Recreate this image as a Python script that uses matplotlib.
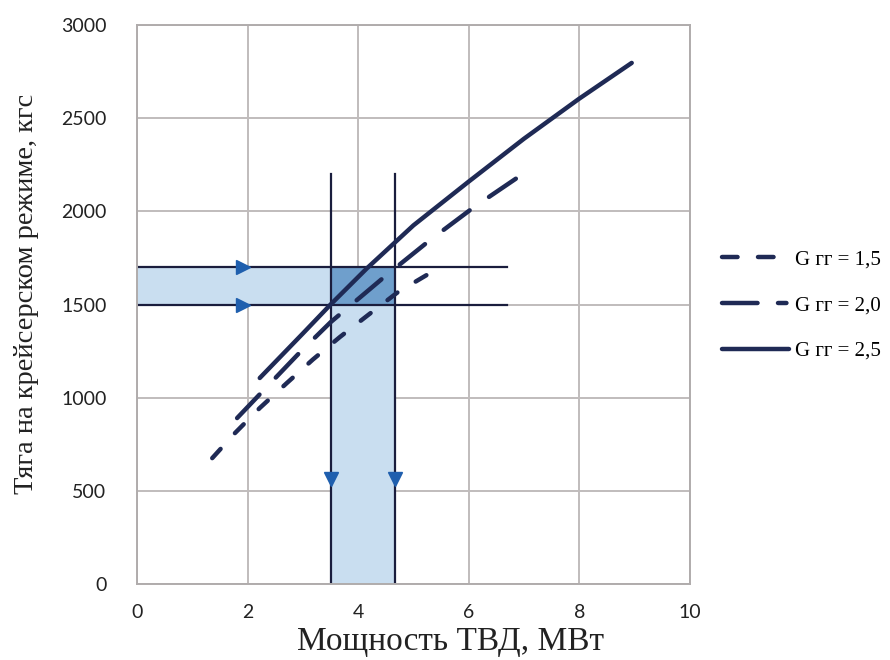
import matplotlib.pyplot as plt
from matplotlib.lines import Line2D

# curves: power (MW) vs thrust (kgf)
x_25 = [2.22, 3.0, 3.5, 4.16, 5.0, 6.0, 7.0, 8.0, 8.95]
y_25 = [1106, 1345, 1500, 1695, 1925, 2160, 2390, 2605, 2797]

x_20 = [1.81, 2.26, 2.95, 3.5, 4.0, 4.5, 5.3, 6.1, 6.95]
y_20 = [891, 1031, 1245, 1405, 1530, 1655, 1846, 2024, 2195]

x_15 = [1.36, 1.77, 2.22, 2.71, 3.18, 3.67, 4.18, 4.72, 5.39]
y_15 = [676, 810, 945, 1079, 1205, 1326, 1444, 1567, 1685]

labels = ["G гг = 1,5", "G гг = 2,0", "G гг = 2,5"]

# construction lines
thrust_levels = [1500, 1700]
power_levels = [3.5, 4.67]
h_line_end = 6.7
v_line_top = 2200

navy = "#1f2a55"
arrow_blue = "#1f5fae"
lw = 3.2

fig = plt.figure(figsize=(8.9, 6.6), dpi=100)
ax = fig.add_axes([0.154, 0.115, 0.621, 0.847])

# shaded bands
ax.fill_between([0, power_levels[0]], thrust_levels[0], thrust_levels[1],
                color="#c9def0", lw=0, zorder=1)
ax.fill_between(power_levels, 0, thrust_levels[0],
                color="#c9def0", lw=0, zorder=1)
ax.fill_between(power_levels, thrust_levels[0], thrust_levels[1],
                color="#6f9fcc", lw=0, zorder=1)

# curves
ax.plot(x_15, y_15, color=navy, lw=lw, dashes=(2.8, 4.8),
        dash_capstyle="round", zorder=3)
ax.plot(x_20, y_20, color=navy, lw=lw, dashes=(7.3, 5.3),
        dash_capstyle="round", zorder=3)
ax.plot(x_25, y_25, color=navy, lw=lw, solid_capstyle="round", zorder=3)

# construction lines and arrows
for t in thrust_levels:
    ax.plot([0, h_line_end], [t, t], color="#1a1d3d", lw=1.6, zorder=2)
    ax.plot([1.92], [t], marker=">", ms=10, color=arrow_blue, zorder=4)
for p in power_levels:
    ax.plot([p, p], [0, v_line_top], color="#1a1d3d", lw=1.6, zorder=2)
    ax.plot([p], [565], marker="v", ms=10, color=arrow_blue, zorder=4)

ax.set_xlim(0, 10)
ax.set_ylim(0, 3000)
ax.set_xticks([0, 2, 4, 6, 8, 10])
ax.set_yticks([0, 500, 1000, 1500, 2000, 2500, 3000])
ax.grid(True, color="#c0bcbc", lw=1.4, zorder=0)
ax.set_axisbelow(True)
for s in ax.spines.values():
    s.set_color("#b0acac")
    s.set_linewidth(1.4)
ax.tick_params(length=0, labelsize=14, colors="#222222")
ax.tick_params(axis="y", pad=22)
ax.tick_params(axis="x", pad=14)
for lab in ax.get_xticklabels() + ax.get_yticklabels():
    lab.set_family("Lato")

ax.set_xlabel("Мощность ТВД, МВт", family="Liberation Serif", fontsize=24,
              color="#222222")
ax.xaxis.set_label_coords(0.568, -0.076)
ax.set_ylabel("Тяга на крейсерском режиме, кгс", family="Liberation Serif",
              fontsize=20.5, color="#222222")
ax.yaxis.set_label_coords(-0.178, 0.52)

handles = [
    Line2D([], [], color=navy, lw=lw, dashes=(3.5, 4.6), dash_capstyle="round"),
    Line2D([], [], color=navy, lw=lw, dashes=(8.0, 4.6, 1.9, 4.6), dash_capstyle="round"),
    Line2D([], [], color=navy, lw=lw, solid_capstyle="round"),
]
fig.legend(handles, labels, loc="center left", bbox_to_anchor=(0.79, 0.537),
           frameon=False, prop={"family": "Liberation Serif", "size": 15},
           handlelength=3.2, handletextpad=0.3, labelspacing=1.25)

fig.savefig("out.png", dpi=100)
